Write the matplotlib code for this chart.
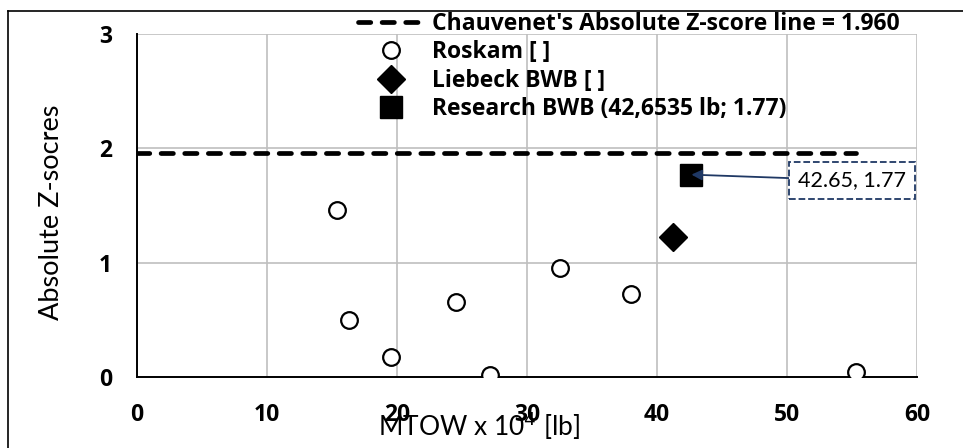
import matplotlib
matplotlib.use('Agg')
import matplotlib.pyplot as plt
from matplotlib.lines import Line2D

# Data #
roskam_x = [15.36, 16.28, 19.53, 24.51, 27.12, 32.5, 38.03, 55.34]
roskam_y = [1.46, 0.50, 0.175, 0.66, 0.02, 0.956, 0.73, 0.044]
liebeck_x = [41.23]
liebeck_y = [1.227]
research_x = [42.65]
research_y = [1.77]
chauvenet_x = [0, 55.34]
chauvenet_y = [1.960, 1.960]
x_ticks = [0, 10, 20, 30, 40, 50, 60]
y_ticks = [0, 1, 2, 3]

plt.rcParams['font.family'] = ['Lato', 'DejaVu Sans']
bold = ['Open Sans', 'DejaVu Sans']

fig = plt.figure(figsize=(9.63, 4.48), dpi=100)
ax = fig.add_axes([137/963, 1 - 377/448, 780/963, 343/448])

ax.plot(chauvenet_x, chauvenet_y, color='black', lw=3.4, ls=(0, (2.6, 2.4)),
        dash_capstyle='round', label="Chauvenet's Absolute Z-score line = 1.960", zorder=3)
ax.plot(roskam_x, roskam_y, 'o', ms=12, mfc='white', mec='black', mew=1.6,
        label='Roskam [ ]', zorder=4)
ax.plot(liebeck_x, liebeck_y, 'D', ms=14, color='black', label='Liebeck BWB [ ]', zorder=4)
ax.plot(research_x, research_y, 's', ms=16, color='black',
        label='Research BWB (42,6535 lb; 1.77)', zorder=4)

ax.annotate('%.2f, %.2f' % (research_x[0], research_y[0]),
            xy=(research_x[0], research_y[0]), xytext=(55.0, 1.72),
            fontsize=15.5, va='center', ha='center',
            bbox=dict(boxstyle='square,pad=0.4', fc='white', ec='#1F3864', ls='--', lw=1.3),
            arrowprops=dict(arrowstyle='-|>', color='#1F3864', lw=1.3, shrinkA=0, shrinkB=0),
            zorder=5)

ax.set_xlim(0, 60)
ax.set_ylim(0, 3)
ax.set_xticks(x_ticks)
ax.set_yticks(y_ticks)
ax.tick_params(length=0, labelsize=16.5)
ax.tick_params(axis='y', pad=18)
ax.tick_params(axis='x', pad=19)
for lbl in ax.get_xticklabels() + ax.get_yticklabels():
    lbl.set_family(bold)
    lbl.set_fontweight('bold')
ax.grid(True, color='#BFBFBF', lw=1.2)
ax.set_axisbelow(True)
for s in ['top', 'right']:
    ax.spines[s].set_visible(False)
for s in ['left', 'bottom']:
    ax.spines[s].set_linewidth(1.4)

fig.text(52/963, 1 - 212/448, 'Absolute Z-socres', rotation=90, fontsize=19.5,
         ha='center', va='center')
fig.text(479/963, 1 - 436/448, 'MTOW x 10$^4$ [lb]', fontsize=19,
         ha='center', va='baseline')

leg = fig.legend(loc='upper left', bbox_to_anchor=(358/963, 1 - 12/448),
                 frameon=False, prop={'family': bold, 'weight': 'bold', 'size': 16.5},
                 handlelength=2.85, handletextpad=0.4, labelspacing=0.19,
                 borderpad=0, borderaxespad=0)

# outer frame (only the top and left edges show in the reference) #
fig.add_artist(Line2D([8/963, 1], [1 - 11.5/448, 1 - 11.5/448], transform=fig.transFigure,
                      color='black', lw=1.2))
fig.add_artist(Line2D([8/963, 8/963], [0, 1 - 11.5/448], transform=fig.transFigure,
                      color='black', lw=1.2))

fig.savefig('out.png', dpi=100)
